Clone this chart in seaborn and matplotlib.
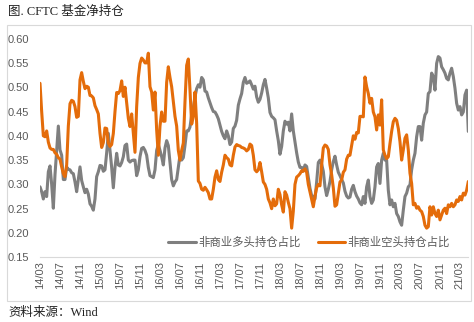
import numpy as np
import pandas as pd
import matplotlib
matplotlib.use("Agg")
import matplotlib.pyplot as plt
from matplotlib.patches import Rectangle
import seaborn as sns

# ---------------- data ----------------
series_names = ["非商业多头持仓占比", "非商业空头持仓占比"]

long_ratio = [
    0.295, 0.285, 0.27, 0.285, 0.275, 0.326, 0.338, 0.30, 0.251, 0.32,
    0.37, 0.42, 0.371, 0.36, 0.31, 0.31, 0.336, 0.331, 0.33, 0.324,
    0.322, 0.305, 0.285, 0.31, 0.336, 0.308, 0.295, 0.283, 0.29, 0.28,
    0.26, 0.255, 0.247, 0.27, 0.316, 0.326, 0.339, 0.338, 0.327, 0.33,
    0.365, 0.405, 0.371, 0.335, 0.293, 0.335, 0.364, 0.34, 0.338, 0.345,
    0.357, 0.38, 0.383, 0.35, 0.346, 0.349, 0.35, 0.35, 0.318, 0.33,
    0.357, 0.374, 0.376,
    0.37, 0.36, 0.335, 0.318, 0.316, 0.314, 0.33, 0.37, 0.382, 0.37,
    0.357, 0.34, 0.375, 0.39, 0.38, 0.345, 0.31, 0.297, 0.305, 0.31,
    0.335, 0.36, 0.35, 0.355, 0.38, 0.41, 0.41, 0.418, 0.443, 0.457,
    0.48, 0.497, 0.505, 0.50, 0.52, 0.515, 0.492, 0.49, 0.478, 0.468,
    0.458, 0.45, 0.449, 0.443, 0.435, 0.422, 0.409, 0.40, 0.394, 0.41,
    0.40, 0.382, 0.387, 0.415, 0.42, 0.432, 0.463, 0.476, 0.487, 0.51,
    0.52, 0.508, 0.51, 0.513, 0.505, 0.496,
    0.502, 0.48, 0.469, 0.475, 0.488, 0.505, 0.516, 0.498, 0.478, 0.448,
    0.44, 0.437, 0.433, 0.41, 0.39, 0.362, 0.378, 0.41, 0.43, 0.424,
    0.428, 0.41, 0.445, 0.41, 0.388, 0.365, 0.346, 0.335, 0.335, 0.328,
    0.34, 0.337, 0.315, 0.292, 0.277, 0.275, 0.27, 0.305, 0.345, 0.35,
    0.342, 0.327, 0.295, 0.277, 0.29, 0.306, 0.33, 0.347, 0.358, 0.34,
    0.325, 0.318, 0.31, 0.303, 0.286, 0.276, 0.272, 0.274, 0.29, 0.298,
    0.285, 0.276, 0.27, 0.262, 0.258,
    0.275, 0.261, 0.295, 0.309, 0.275, 0.261, 0.268, 0.295, 0.336, 0.343,
    0.302, 0.35, 0.364, 0.35, 0.35, 0.288, 0.258, 0.268, 0.254, 0.261,
    0.24, 0.234, 0.223, 0.216, 0.247, 0.275, 0.282, 0.295, 0.299, 0.33,
    0.35, 0.364, 0.398, 0.419, 0.419, 0.391, 0.426, 0.443, 0.449, 0.487,
    0.491, 0.529, 0.522, 0.494, 0.549, 0.563, 0.56, 0.542, 0.536, 0.529,
    0.518, 0.515, 0.529, 0.539, 0.522, 0.498, 0.467, 0.453, 0.46, 0.443,
    0.449, 0.484, 0.494, 0.409,
]

short_ratio = [
    0.508, 0.45, 0.40, 0.398, 0.41, 0.387, 0.375, 0.372, 0.372, 0.365,
    0.362, 0.355, 0.352, 0.336, 0.322, 0.316, 0.34, 0.42, 0.466, 0.473,
    0.471, 0.46, 0.438, 0.44, 0.515, 0.53, 0.512, 0.497, 0.502, 0.50,
    0.483, 0.482, 0.478, 0.462, 0.454, 0.445, 0.405, 0.376, 0.386, 0.416,
    0.415, 0.385, 0.378, 0.382, 0.405, 0.45, 0.489, 0.487, 0.493, 0.513,
    0.481, 0.50, 0.468, 0.436, 0.419, 0.445, 0.405, 0.366, 0.46, 0.52,
    0.549, 0.56, 0.556,
    0.55, 0.55, 0.57, 0.501, 0.49, 0.453, 0.49, 0.412, 0.36, 0.42,
    0.449, 0.43, 0.43, 0.51, 0.542, 0.52, 0.501, 0.47, 0.44, 0.42,
    0.37, 0.35, 0.37, 0.385, 0.47, 0.545, 0.558, 0.494, 0.424, 0.44,
    0.49, 0.426, 0.307, 0.302, 0.29, 0.288, 0.294, 0.289, 0.283, 0.27,
    0.27, 0.29, 0.315, 0.328, 0.31, 0.306, 0.325, 0.34, 0.36, 0.355,
    0.352, 0.34, 0.338, 0.36, 0.377, 0.382, 0.38, 0.379, 0.376, 0.375,
    0.373, 0.369, 0.372, 0.383, 0.38, 0.36,
    0.33, 0.326, 0.33, 0.345, 0.326, 0.305, 0.30, 0.29, 0.27, 0.262,
    0.25, 0.27, 0.256, 0.26, 0.29, 0.279, 0.258, 0.243, 0.285, 0.278,
    0.263, 0.25, 0.21, 0.245, 0.30, 0.315, 0.318, 0.322, 0.328, 0.327,
    0.332, 0.325, 0.30, 0.285, 0.27, 0.254, 0.276, 0.293, 0.30, 0.297,
    0.34, 0.375, 0.381, 0.379, 0.372, 0.34, 0.32, 0.293, 0.255, 0.258,
    0.282, 0.305, 0.309, 0.325, 0.33, 0.352, 0.36, 0.36, 0.38, 0.40,
    0.393, 0.407, 0.406, 0.44, 0.44,
    0.439, 0.521, 0.501, 0.487, 0.467, 0.477, 0.449, 0.439, 0.412, 0.443,
    0.422, 0.474, 0.371, 0.36, 0.353, 0.357, 0.384, 0.409, 0.429, 0.436,
    0.432, 0.415, 0.388, 0.35, 0.371, 0.395, 0.402, 0.371, 0.323, 0.302,
    0.258, 0.261, 0.251, 0.254, 0.247, 0.244, 0.234, 0.216, 0.21, 0.213,
    0.254, 0.237, 0.254, 0.24, 0.234, 0.247, 0.227, 0.237, 0.247, 0.251,
    0.24, 0.258, 0.254, 0.261, 0.254, 0.258, 0.268, 0.265, 0.275, 0.268,
    0.282, 0.278, 0.288, 0.306,
]

start_date = "2014-02-27"
end_date = "2021-04-22"

tick_labels = ["14/03", "14/07", "14/11", "15/03", "15/07", "15/11",
               "16/03", "16/07", "16/11", "17/03", "17/07", "17/11",
               "18/03", "18/07", "18/11", "19/03", "19/07", "19/11",
               "20/03", "20/07", "20/11", "21/03"]
tick_dates = ["2014-03-01", "2014-07-01", "2014-11-01", "2015-03-01",
              "2015-07-01", "2015-11-01", "2016-03-01", "2016-07-01",
              "2016-11-01", "2017-03-01", "2017-07-01", "2017-11-01",
              "2018-03-01", "2018-07-01", "2018-11-01", "2019-03-01",
              "2019-07-01", "2019-11-01", "2020-03-01", "2020-07-01",
              "2020-11-01", "2021-03-01"]
y_ticks = [0.15, 0.20, 0.25, 0.30, 0.35, 0.40, 0.45, 0.50, 0.55, 0.60]

title_text = "图. CFTC 基金净持仓"
source_text = "资料来源：Wind"

# ---------------- build table ----------------
n = len(long_ratio)
dates = pd.date_range(start_date, end_date, periods=n)
df = pd.DataFrame({
    "date": list(dates) + list(dates),
    "value": long_ratio + short_ratio,
    "series": [series_names[0]] * n + [series_names[1]] * len(short_ratio),
})

# ---------------- style ----------------
sns.set_theme(style="white")
plt.rcParams["font.family"] = ["Liberation Sans", "Noto Sans CJK SC", "DejaVu Sans"]

W, H = 474, 322
fig = plt.figure(figsize=(W / 100, H / 100), dpi=100)
fig.patch.set_facecolor("white")

ax_left, ax_right, ax_top, ax_bottom = 40, 468.3, 38.6, 257.3
ax = fig.add_axes([ax_left / W, 1 - ax_bottom / H,
                   (ax_right - ax_left) / W, (ax_bottom - ax_top) / H])
ax.set_facecolor("white")

grey = "#7F7F7F"
orange = "#E46C0A"
sns.lineplot(data=df, x="date", y="value", hue="series",
             hue_order=series_names, palette=[grey, orange],
             linewidth=2.2, ax=ax, legend=False)

ax.set_xlim(pd.Timestamp(start_date), pd.Timestamp(end_date))
ax.set_ylim(0.15, 0.60)
ax.set_yticks(y_ticks)
ax.set_yticklabels([f"{v:.2f}" for v in y_ticks])
ax.set_xticks(pd.to_datetime(tick_dates))
ax.set_xticklabels(tick_labels, rotation=90)
ax.set_xlabel("")
ax.set_ylabel("")
ax.grid(False)

for s in ["top", "right", "left"]:
    ax.spines[s].set_visible(False)
ax.spines["bottom"].set_color("#D9D9D9")
ax.spines["bottom"].set_linewidth(0.8)

ax.tick_params(axis="both", length=0, labelsize=8, colors="#595959")
ax.tick_params(axis="y", pad=8)
ax.tick_params(axis="x", pad=3)

leg = ax.legend(ax.lines[:2], series_names, ncol=2, loc="center",
                bbox_to_anchor=((309 - ax_left) / (ax_right - ax_left),
                                (ax_bottom - 242) / (ax_bottom - ax_top)),
                frameon=False, handlelength=2.4, handletextpad=0.2,
                columnspacing=1.5, borderpad=0,
                prop={"family": ["Noto Sans CJK SC"], "size": 8.2})
for t in leg.get_texts():
    t.set_color("#595959")

# outer frame
fig.add_artist(Rectangle((7 / W, 1 - 301 / H), (470.5 - 7) / W, (301 - 25) / H,
                         transform=fig.transFigure, fill=False,
                         edgecolor="#D9D9D9", linewidth=0.8))

fig.text(8 / W, 1 - 12 / H, title_text, ha="left", va="center", fontsize=9,
         family=["Liberation Serif", "Noto Sans CJK SC"], color="#222222")
fig.text(8 / W, 1 - 313 / H, source_text, ha="left", va="center", fontsize=9,
         family=["Liberation Serif", "Noto Sans CJK SC"], color="#222222")

fig.savefig("out.png", dpi=100, facecolor="white")
